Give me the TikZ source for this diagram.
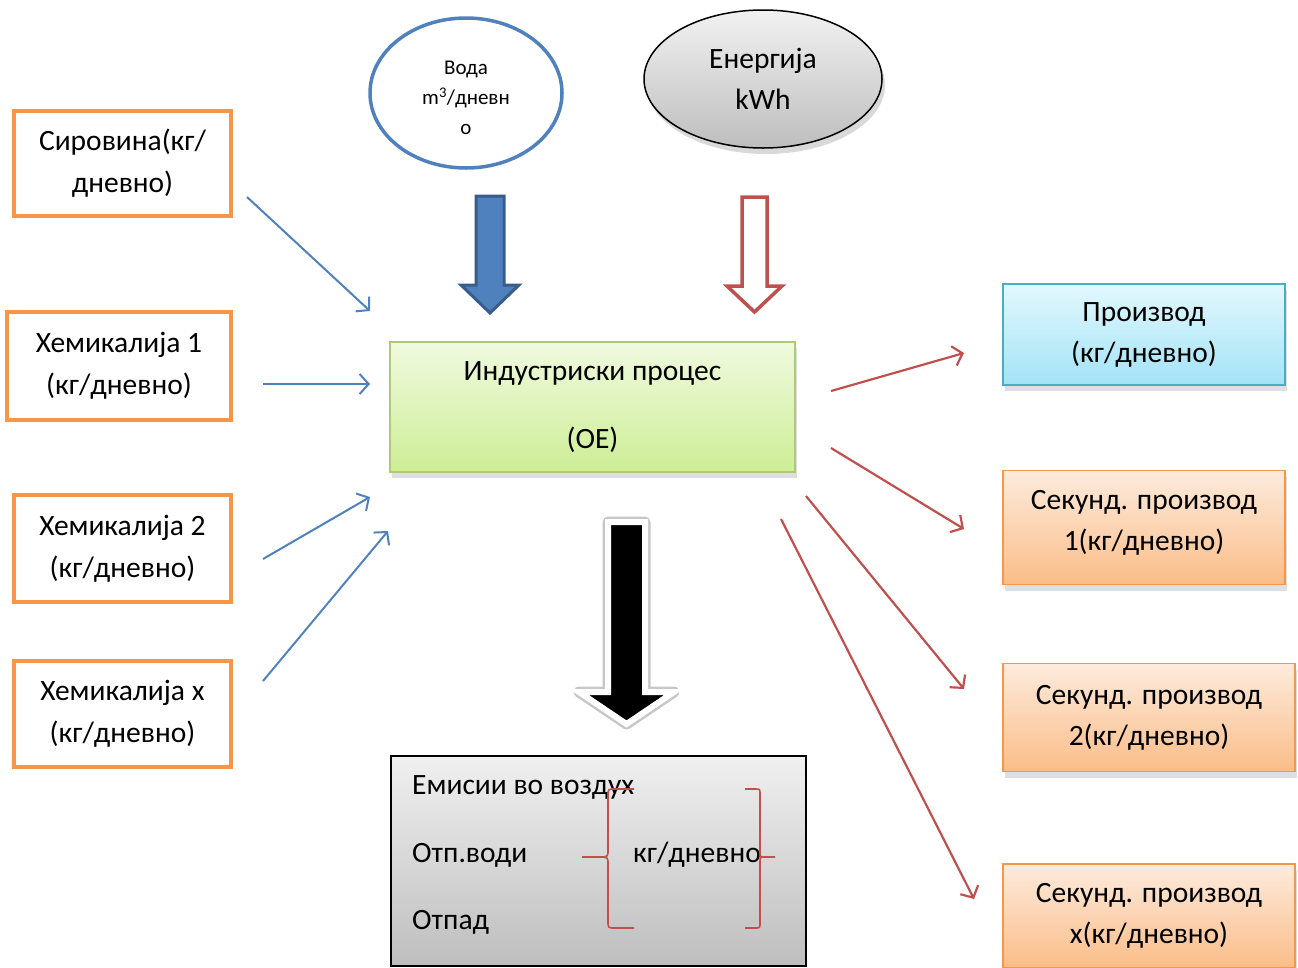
\documentclass[tikz,border=0pt]{standalone}
\usepackage{fontspec}
\setmainfont{Carlito}
\usetikzlibrary{shapes.geometric,arrows.meta,shadows}
\definecolor{obord}{HTML}{F79646}
\definecolor{bblue}{HTML}{4F81BD}
\definecolor{dblue}{HTML}{385D8A}
\definecolor{bred}{HTML}{C0504D}
\definecolor{gbord}{HTML}{9BBB59}
\definecolor{gtop}{HTML}{F0FADF}
\definecolor{gbot}{HTML}{CDEE95}
\definecolor{cbord}{HTML}{4BACC6}
\definecolor{ctop}{HTML}{E2F8FD}
\definecolor{cbot}{HTML}{A3E3F7}
\definecolor{otop}{HTML}{FDEBDD}
\definecolor{obot}{HTML}{FBBD88}
\definecolor{ytop}{HTML}{F0F0F0}
\definecolor{ybot}{HTML}{BEBEBE}
\tikzset{
  inbox/.style={draw=obord, line width=3.5pt, fill=white, align=center, inner sep=0pt,
     font=\fontsize{29.5}{42}\selectfont},
  shbox/.style={drop shadow={opacity=0.25, shadow xshift=2pt, shadow yshift=-6pt}},
  outbox/.style={shbox, draw=obord, line width=1.5pt, top color=otop, bottom color=obot,
     align=center, inner sep=0pt, font=\fontsize{29.5}{41}\selectfont},
  thinblue/.style={bblue, line width=2pt, -{Straight Barb[length=9pt,width=20pt]}},
  thinred/.style={bred, line width=2.2pt, -{Straight Barb[length=9pt,width=20pt]}},
  brace/.style={bred, line width=1.6pt},
  emtext/.style={anchor=west, inner sep=0pt, font=\fontsize{29.5}{30}\selectfont},
}
\begin{document}
\begin{tikzpicture}[x=1pt,y=-1pt]
\useasboundingbox (0,0) rectangle (1298,967);

% input boxes
\node[inbox, minimum width=217pt, minimum height=105pt] (sir) at (122.5,163.5) {Сировина(кг/\\дневно)};
\node[inbox, minimum width=224pt, minimum height=108pt] (h1) at (119,366) {Хемикалија 1\\(кг/дневно)};
\node[inbox, minimum width=217pt, minimum height=107pt] (h2) at (122.5,548.5) {Хемикалија 2\\(кг/дневно)};
\node[inbox, minimum width=217pt, minimum height=106pt] (hx) at (122.5,714) {Хемикалија x\\(кг/дневно)};

% water ellipse
\node[ellipse, draw=bblue, line width=3.5pt, fill=white, minimum width=192pt, minimum height=150pt,
  inner sep=0pt] (voda) at (466,93) {};
\node[align=center, inner sep=0pt, font=\fontsize{21}{30}\selectfont] (vodat) at (466,98)
  {Вода\\m\textsuperscript{3}/дневн\\о};

% energy ellipse
\node[ellipse, draw=black, line width=1.5pt, top color=ytop!90!white, bottom color=ybot,
  drop shadow={opacity=0.3, shadow xshift=3pt, shadow yshift=-6pt},
  minimum width=238pt, minimum height=138pt, inner sep=0pt, align=center,
  font=\fontsize{29.5}{41}\selectfont] (en) at (763,79) {Енергија\\kWh};

% process box
\node[shbox, draw=gbord!80!white, line width=2pt, top color=gtop, bottom color=gbot,
  minimum width=405pt, minimum height=130pt, inner sep=0pt, align=center,
  font=\fontsize{29.5}{34}\selectfont] (proc) at (592.5,407) {Индустриски процес\\[34pt](ОЕ)};

% block arrows
\fill[bblue, draw=dblue, line width=3pt] (476,196) -- (504,196) -- (504,285) -- (519,285)
  -- (490,313) -- (461,285) -- (476,285) -- cycle;
\draw[bred, fill=white, line width=3.5pt] (742,197) -- (767,197) -- (767,286) -- (782,286)
  -- (754.5,312) -- (727,286) -- (742,286) -- cycle;
\draw[black!22, line width=11pt, line join=round]
  (608,522) -- (645,522) -- (645,692) -- (674,692) -- (626.5,724) -- (579,692) -- (608,692) -- cycle;
\filldraw[fill=black, draw=white, line width=6pt]
  (608,522) -- (645,522) -- (645,692) -- (674,692) -- (626.5,724) -- (579,692) -- (608,692) -- cycle;

% output boxes
\node[shbox, draw=cbord, line width=1.5pt, top color=ctop, bottom color=cbot, minimum width=282pt,
  minimum height=101pt, inner sep=0pt, align=center, font=\fontsize{29.5}{41}\selectfont] (prod) at (1144,334.5)
  {Производ\\(кг/дневно)};
\node[outbox, minimum width=282pt, minimum height=114pt] (s1) at (1144,527.5) {};
\node[align=center, inner sep=0pt, font=\fontsize{29.5}{41}\selectfont] (s1t) at (1144,523)
  {Секунд. производ\\1(кг/дневно)};
\node[outbox, minimum width=292pt, minimum height=108pt] (s2) at (1149,717.5) {Секунд. производ\\2(кг/дневно)};
\node[outbox, minimum width=292pt, minimum height=104pt] (sx) at (1149,916) {Секунд. производ\\x(кг/дневно)};

% emissions box
\node[draw=black, line width=2pt, top color=ytop, bottom color=ybot, minimum width=415pt,
  minimum height=210pt, inner sep=0pt] (em) at (598.5,861) {};
\node[emtext] (t1) at (412,787) {Емисии во воздух};
\node[emtext] (t2) at (412,855) {Отп.води};
\node[emtext] (t3) at (412,922) {Отпад};
\node[emtext] (t4) at (633,855) {кг/дневно};
\draw[brace] (634,789) -- (615,789) .. controls (608,789) .. (608,796) -- (608,850)
  .. controls (608,857) .. (598,857) -- (582,857);
\draw[brace] (598,857) .. controls (608,857) .. (608,864) -- (608,921)
  .. controls (608,928) .. (615,928) -- (634,928);
\draw[brace] (745,789) -- (755,789) .. controls (760,789) .. (760,794) -- (760,852)
  .. controls (760,857) .. (765,857) -- (775,857);
\draw[brace] (765,857) .. controls (760,857) .. (760,862) -- (760,923)
  .. controls (760,928) .. (755,928) -- (745,928);

% connector coordinates
\coordinate (a1s) at (247,197); \coordinate (a1e) at (370,311);
\coordinate (a2s) at (263,384); \coordinate (a2e) at (370,384);
\coordinate (a3s) at (263,559); \coordinate (a3e) at (370,497);
\coordinate (a4s) at (263,681); \coordinate (a4e) at (388,531);
\draw[thinblue] (a1s) -- (a1e);
\draw[thinblue] (a2s) -- (a2e);
\draw[thinblue] (a3s) -- (a3e);
\draw[thinblue] (a4s) -- (a4e);

\coordinate (b1s) at (831,391); \coordinate (b1e) at (964,353);
\coordinate (b2s) at (831,448); \coordinate (b2e) at (964,529);
\coordinate (b3s) at (806,496); \coordinate (b3e) at (964,689);
\coordinate (b4s) at (781,519); \coordinate (b4e) at (974,899);
\draw[thinred] (b1s) -- (b1e);
\draw[thinred] (b2s) -- (b2e);
\draw[thinred] (b3s) -- (b3e);
\draw[thinred] (b4s) -- (b4e);
\end{tikzpicture}
\end{document}
